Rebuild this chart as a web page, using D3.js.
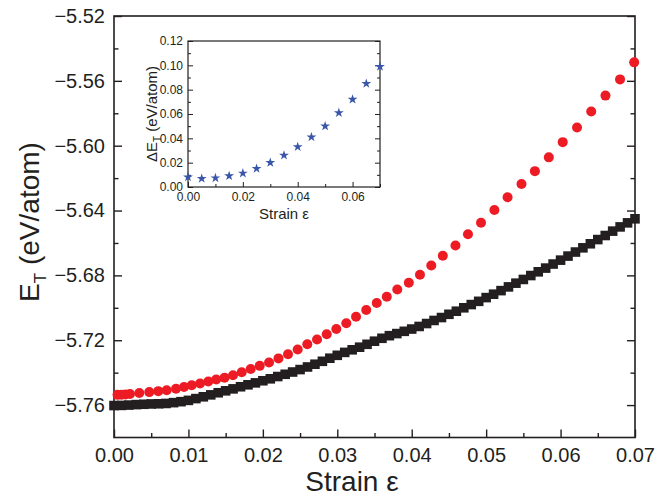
<!DOCTYPE html>
<html><head><meta charset="utf-8">
<script src="https://cdn.jsdelivr.net/npm/d3@7"></script>
<style>body{margin:0;background:#fff} svg{display:block} text{font-family:"Liberation Sans",Arial,sans-serif;fill:#231f20}</style>
</head><body>
<svg id="c" width="660" height="497"></svg>
<script>
// ---- data ----
const squareX = [0.000,0.001,0.002,0.003,0.004,0.005,0.006,0.007,0.008,0.009,0.010,0.011,0.012,0.013,0.014,0.015,0.016,0.017,0.018,0.019,0.020,0.021,0.022,0.023,0.024,0.025,0.026,0.027,0.028,0.029,0.030,0.031,0.032,0.033,0.034,0.035,0.036,0.037,0.038,0.039,0.040,0.041,0.042,0.043,0.044,0.045,0.046,0.047,0.048,0.049,0.050,0.051,0.052,0.053,0.054,0.055,0.056,0.057,0.058,0.059,0.060,0.061,0.062,0.063,0.064,0.065,0.066,0.067,0.068,0.069,0.070];
const squareY = [-5.7603,-5.7602,-5.7600,-5.7597,-5.7595,-5.7593,-5.7592,-5.7590,-5.7585,-5.7579,-5.7571,-5.7560,-5.7549,-5.7537,-5.7524,-5.7512,-5.7500,-5.7487,-5.7475,-5.7463,-5.7450,-5.7438,-5.7424,-5.7410,-5.7396,-5.7381,-5.7365,-5.7348,-5.7330,-5.7311,-5.7293,-5.7275,-5.7259,-5.7243,-5.7225,-5.7206,-5.7188,-5.7172,-5.7159,-5.7145,-5.7131,-5.7115,-5.7097,-5.7078,-5.7060,-5.7040,-5.7021,-5.7000,-5.6980,-5.6960,-5.6937,-5.6916,-5.6894,-5.6871,-5.6848,-5.6825,-5.6801,-5.6778,-5.6755,-5.6730,-5.6706,-5.6681,-5.6656,-5.6630,-5.6605,-5.6579,-5.6554,-5.6527,-5.6501,-5.6476,-5.6451];
const circleX = [0.00047,0.00101,0.00155,0.00215,0.00340,0.00474,0.00595,0.00708,0.00833,0.00941,0.01044,0.01156,0.01267,0.01373,0.01485,0.01599,0.01716,0.01837,0.01958,0.02083,0.02210,0.02338,0.02468,0.02597,0.02728,0.02858,0.02987,0.03121,0.03252,0.03389,0.03530,0.03665,0.03806,0.03961,0.04111,0.04263,0.04418,0.04588,0.04756,0.04931,0.05111,0.05288,0.05475,0.05655,0.05842,0.06029,0.06221,0.06412,0.06603,0.06799,0.06989];
const circleY = [-5.7537,-5.7536,-5.7534,-5.7532,-5.7526,-5.7520,-5.7514,-5.7508,-5.7499,-5.7488,-5.7478,-5.7467,-5.7455,-5.7442,-5.7431,-5.7416,-5.7398,-5.7378,-5.7358,-5.7337,-5.7312,-5.7287,-5.7257,-5.7225,-5.7195,-5.7163,-5.7131,-5.7095,-5.7055,-5.7014,-5.6970,-5.6932,-5.6887,-5.6845,-5.6796,-5.6739,-5.6679,-5.6616,-5.6546,-5.6475,-5.6397,-5.6318,-5.6236,-5.6157,-5.6072,-5.5978,-5.5888,-5.5789,-5.5691,-5.5591,-5.5486];
const insetX = [0.000,0.005,0.010,0.015,0.020,0.025,0.030,0.035,0.040,0.045,0.050,0.055,0.060,0.065,0.070];
const insetY = [0.0082,0.0069,0.0074,0.0091,0.0113,0.0151,0.0200,0.0260,0.0330,0.0410,0.0500,0.0610,0.0720,0.0850,0.0990];
const xTicks = [0.00,0.01,0.02,0.03,0.04,0.05,0.06,0.07];
const xMinor = [0.005,0.015,0.025,0.035,0.045,0.055,0.065];
const yTicks = [-5.76,-5.72,-5.68,-5.64,-5.60,-5.56,-5.52];
const yMinor = [-5.74,-5.70,-5.66,-5.62,-5.58,-5.54];
const insXTicks = [0.00,0.02,0.04,0.06];
const insXMinor = [0.01,0.03,0.05,0.07];
const insYTicks = [0.00,0.02,0.04,0.06,0.08,0.10,0.12];
const insYMinor = [0.01,0.03,0.05,0.07,0.09,0.11];

const INK = '#231f20';
const svg = d3.select('#c');

function frameAxes(g, xs, ys, o){
  const [x0,x1] = xs.range(), [y0,y1] = ys.range();
  const mk = (axis, tr, vals, size, fmt, pad, fs) => {
    const a = axis.tickValues(vals).tickSize(size).tickPadding(pad).tickFormat(fmt);
    const gg = g.append('g').attr('transform', tr).call(a);
    gg.select('.domain').remove();
    gg.selectAll('line').attr('stroke', INK).attr('stroke-width', o.tw);
    gg.selectAll('text').style('font-size', fs+'px').attr('fill', INK).style('font-family','"Liberation Sans",Arial,sans-serif');
    return gg;
  };
  mk(d3.axisBottom(xs), `translate(0,${y0})`, o.xT, -o.maj, d3.format('.2f'), o.xpad, o.fs);
  mk(d3.axisBottom(xs), `translate(0,${y0})`, o.xM, -o.min, () => '', 0, o.fs);
  mk(d3.axisLeft(ys), `translate(${x0},0)`, o.yT, -o.maj, d3.format('.2f'), o.ypad, o.fs);
  mk(d3.axisLeft(ys), `translate(${x0},0)`, o.yM, -o.min, () => '', 0, o.fs);
  mk(d3.axisRight(ys), `translate(${x1},0)`, o.yT, -o.maj, () => '', 0, o.fs);
  mk(d3.axisRight(ys), `translate(${x1},0)`, o.yM, -o.min, () => '', 0, o.fs);
  g.append('rect').attr('x', x0).attr('y', y1).attr('width', x1-x0).attr('height', y0-y1)
    .attr('fill','none').attr('stroke', INK).attr('stroke-width', o.fw);
}

// ---- main chart ----
const x = d3.scaleLinear([0, 0.07], [114, 635]);
const y = d3.scaleLinear([-5.78, -5.52], [437.5, 16]);
const main = svg.append('g');
frameAxes(main, x, y, {xT:xTicks, xM:xMinor, yT:yTicks, yM:yMinor, maj:8, min:4.5, tw:1.4, fw:1.6, fs:20, xpad:10, ypad:9});

const sq = d3.symbol().type(d3.symbolSquare).size(92)();
main.append('g').selectAll('path').data(squareX.map((d,i)=>[d,squareY[i]])).join('path')
  .attr('d', sq).attr('fill', INK).attr('transform', d => `translate(${x(d[0])},${y(d[1])})`);
const ci = d3.symbol().type(d3.symbolCircle).size(Math.PI*5*5)();
main.append('g').selectAll('path').data(circleX.map((d,i)=>[d,circleY[i]])).join('path')
  .attr('d', ci).attr('fill', '#ed1c24').attr('transform', d => `translate(${x(d[0])},${y(d[1])})`);

// axis titles
svg.append('text').attr('x', 352).attr('y', 491).attr('text-anchor','middle').style('font-size','28px').text('Strain ε');
const yt = svg.append('text').attr('transform','translate(39,222) rotate(-90)').attr('text-anchor','middle').style('font-size','28px');
yt.append('tspan').text('E');
yt.append('tspan').attr('dy', 7).style('font-size','17px').text('T');
yt.append('tspan').attr('dy', -7).text(' (eV/atom)');

// ---- inset ----
const ix = d3.scaleLinear([0, 0.07], [188, 380]);
const iy = d3.scaleLinear([0, 0.12], [187, 41]);
const ins = svg.append('g');
frameAxes(ins, ix, iy, {xT:insXTicks, xM:insXMinor, yT:insYTicks, yM:insYMinor, maj:5, min:3, tw:1, fw:1.2, fs:12, xpad:5, ypad:5});
const st = d3.symbol().type(d3.symbolStar).size(30)();
ins.append('g').selectAll('path').data(insetX.map((d,i)=>[d,insetY[i]])).join('path')
  .attr('d', st).attr('fill', '#3a56a8').attr('transform', d => `translate(${ix(d[0])},${iy(d[1])})`);
svg.append('text').attr('x', 284).attr('y', 219).attr('text-anchor','middle').style('font-size','15px').text('Strain  ε');
const it = svg.append('text').attr('transform','translate(157,114) rotate(-90)').attr('text-anchor','middle').style('font-size','15px');
it.append('tspan').text('ΔE');
it.append('tspan').attr('dy', 4).style('font-size','10px').text('T');
it.append('tspan').attr('dy', -4).text(' (eV/atom)');
</script>
</body></html>
